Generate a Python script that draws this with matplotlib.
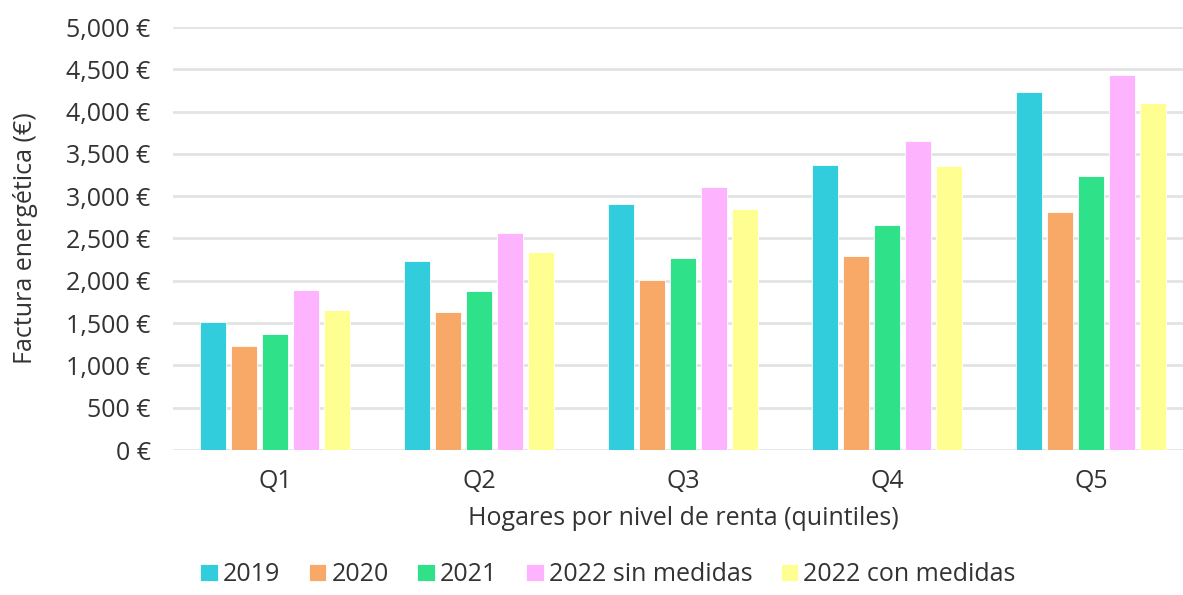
import matplotlib
matplotlib.use('Agg')
import matplotlib.pyplot as plt
import numpy as np
from matplotlib.ticker import FuncFormatter

plt.rcParams['font.family'] = ['Open Sans', 'DejaVu Sans']

quintiles = ['Q1', 'Q2', 'Q3', 'Q4', 'Q5']
series = ['2019', '2020', '2021', '2022 sin medidas', '2022 con medidas']
v2019 = [1510, 2230, 2912, 3372, 4229]
v2020 = [1226, 1635, 2004, 2299, 2818]
v2021 = [1376, 1878, 2264, 2665, 3234]
v2022_sin = [1894, 2570, 3112, 3655, 4437]
v2022_con = [1651, 2346, 2853, 3360, 4103]
colors = ['#31CDDD', '#F8A867', '#2FE28A', '#FEB3FE', '#FFFF91']

values = [v2019, v2020, v2021, v2022_sin, v2022_con]
txt = '#333333'
fs = 18

fig = plt.figure(figsize=(11.83, 5.95), dpi=100)
ax = fig.add_axes([173 / 1183, 1 - 450 / 595, 1020 / 1183, 423 / 595])

x = np.arange(len(quintiles))
pitch = 0.152
width = 0.123
for i, (vals, c, name) in enumerate(zip(values, colors, series)):
    ax.bar(x + (i - 2) * pitch, vals, width, color=c, label=name, zorder=3,
           edgecolor='white', linewidth=0.6)

ax.set_xlim(-0.5, 4.5)
ax.set_ylim(0, 5000)
ax.set_yticks(np.arange(0, 5001, 500))
ax.yaxis.set_major_formatter(FuncFormatter(lambda v, p: '{:,.0f} €'.format(v)))
ax.set_xticks(x)
ax.set_xticklabels(quintiles)
ax.grid(axis='y', color='#e2e4e4', linewidth=2, zorder=0)
ax.set_axisbelow(True)
for s in ax.spines.values():
    s.set_visible(False)
ax.tick_params(axis='both', length=0, labelsize=fs, labelcolor=txt)
ax.tick_params(axis='y', pad=16)
ax.tick_params(axis='x', pad=14)

ax.set_xlabel('Hogares por nivel de renta (quintiles)', fontsize=fs,
              color=txt, labelpad=8)
ax.set_ylabel('Factura energética (€)', fontsize=fs, color=txt, labelpad=20)

leg = fig.legend(loc='lower center', bbox_to_anchor=(0.514, -0.025), ncol=5,
                 frameon=False, handlelength=0.7, handleheight=0.7,
                 handletextpad=0.2, columnspacing=1.15, prop={'size': fs})
for t in leg.get_texts():
    t.set_color(txt)

fig.savefig('out.png', dpi=100)
